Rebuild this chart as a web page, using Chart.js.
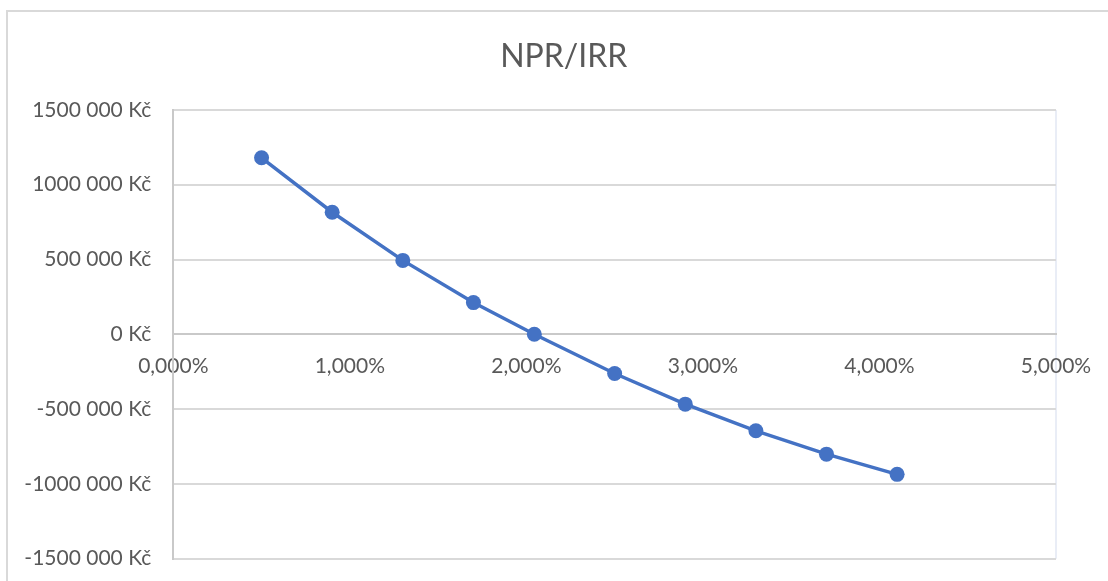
<!DOCTYPE html>
<html>
<head>
<meta charset="utf-8">
<script src="https://cdn.jsdelivr.net/npm/chart.js@4/dist/chart.umd.min.js"></script>
<style>
  html, body { margin: 0; padding: 0; background: #ffffff; overflow: hidden; }
  #frame { position: absolute; left: 6px; top: 10px; width: 1300px; height: 800px;
           border-left: 2px solid #d9d9d9; border-top: 2px solid #d9d9d9; }
  #c { position: absolute; left: 0; top: 0; }
</style>
</head>
<body>
<div id="frame"></div>
<canvas id="c" width="1108" height="581"></canvas>
<script>
// Discount rate (%) and resulting NPV (Kč)
const rates = [0.5, 0.9, 1.3, 1.7, 2.045, 2.5, 2.9, 3.3, 3.7, 4.1];
const npv = [1180000, 816000, 494000, 212000, 0, -262000, -467000, -645000, -801000, -936000];
const title = 'NPR/IRR';
const yTicks = [-1500000, -1000000, -500000, 0, 500000, 1000000, 1500000];
const xTicks = [0, 1, 2, 3, 4, 5];

const FONT = 'Lato, "Liberation Sans", sans-serif';
const TXT = '#595959';

function fmtKc(v) {
  const neg = v < 0;
  let s = String(Math.abs(v));
  if (s.length > 3) s = s.slice(0, s.length - 3) + ' ' + s.slice(s.length - 3);
  return (neg ? '-' : '') + s + ' Kč';
}
function fmtPct(v) {
  return v.toFixed(3).replace('.', ',') + '%';
}

const points = rates.map((r, i) => ({ x: r, y: npv[i] }));

new Chart(document.getElementById('c'), {
  type: 'scatter',
  data: {
    datasets: [{
      label: title,
      data: points,
      showLine: true,
      borderColor: '#4472C4',
      backgroundColor: '#4472C4',
      borderWidth: 3.5,
      pointRadius: 7.5,
      pointHoverRadius: 7.5,
      pointBorderWidth: 0,
      tension: 0
    }]
  },
  options: {
    responsive: false,
    animation: false,
    layout: { padding: { left: 19.5, right: 0, top: 0, bottom: 22.3 } },
    plugins: {
      legend: { display: false },
      tooltip: { enabled: false },
      title: {
        display: true,
        text: title,
        color: TXT,
        font: { family: FONT, size: 32, weight: 'normal', lineHeight: 1.2 },
        padding: { top: 37, bottom: 34.5 }
      }
    },
    scales: {
      x: {
        type: 'linear',
        position: { y: 0 },
        min: 0,
        max: 5,
        afterBuildTicks: (s) => { s.ticks = xTicks.map(v => ({ value: v })); },
        afterFit: (s) => { s.height = 0; s.paddingLeft = 0; s.paddingRight = 0; },
        ticks: {
          color: TXT,
          font: { family: FONT, size: 21 },
          padding: 19,
          maxRotation: 0,
          callback: (v) => fmtPct(v)
        },
        grid: {
          drawTicks: false,
          lineWidth: 2,
          color: (ctx) => (ctx.tick && ctx.tick.value === 5) ? '#e9edf6' : 'rgba(0,0,0,0)'
        },
        border: { display: true, color: '#c9c9c9', width: 2 }
      },
      y: {
        type: 'linear',
        min: -1500000,
        max: 1500000,
        afterBuildTicks: (s) => { s.ticks = yTicks.map(v => ({ value: v })); },
        afterFit: (s) => { s.width = 153.8; s.paddingTop = 0; s.paddingBottom = 0; },
        ticks: {
          color: TXT,
          font: { family: FONT, size: 21 },
          padding: 22,
          callback: (v) => fmtKc(v)
        },
        grid: { drawTicks: false, color: '#d9d9d9', lineWidth: 2 },
        border: { display: true, color: '#c9c9c9', width: 2 }
      },
      // empty spacer on the right so the plot ends where the reference's does
      spacer: {
        type: 'linear',
        position: 'right',
        min: 0,
        max: 1,
        afterFit: (s) => { s.width = 52; s.paddingTop = 0; s.paddingBottom = 0; },
        ticks: { display: false },
        grid: { display: false, drawOnChartArea: false },
        border: { display: false }
      }
    }
  }
});
</script>
</body>
</html>
